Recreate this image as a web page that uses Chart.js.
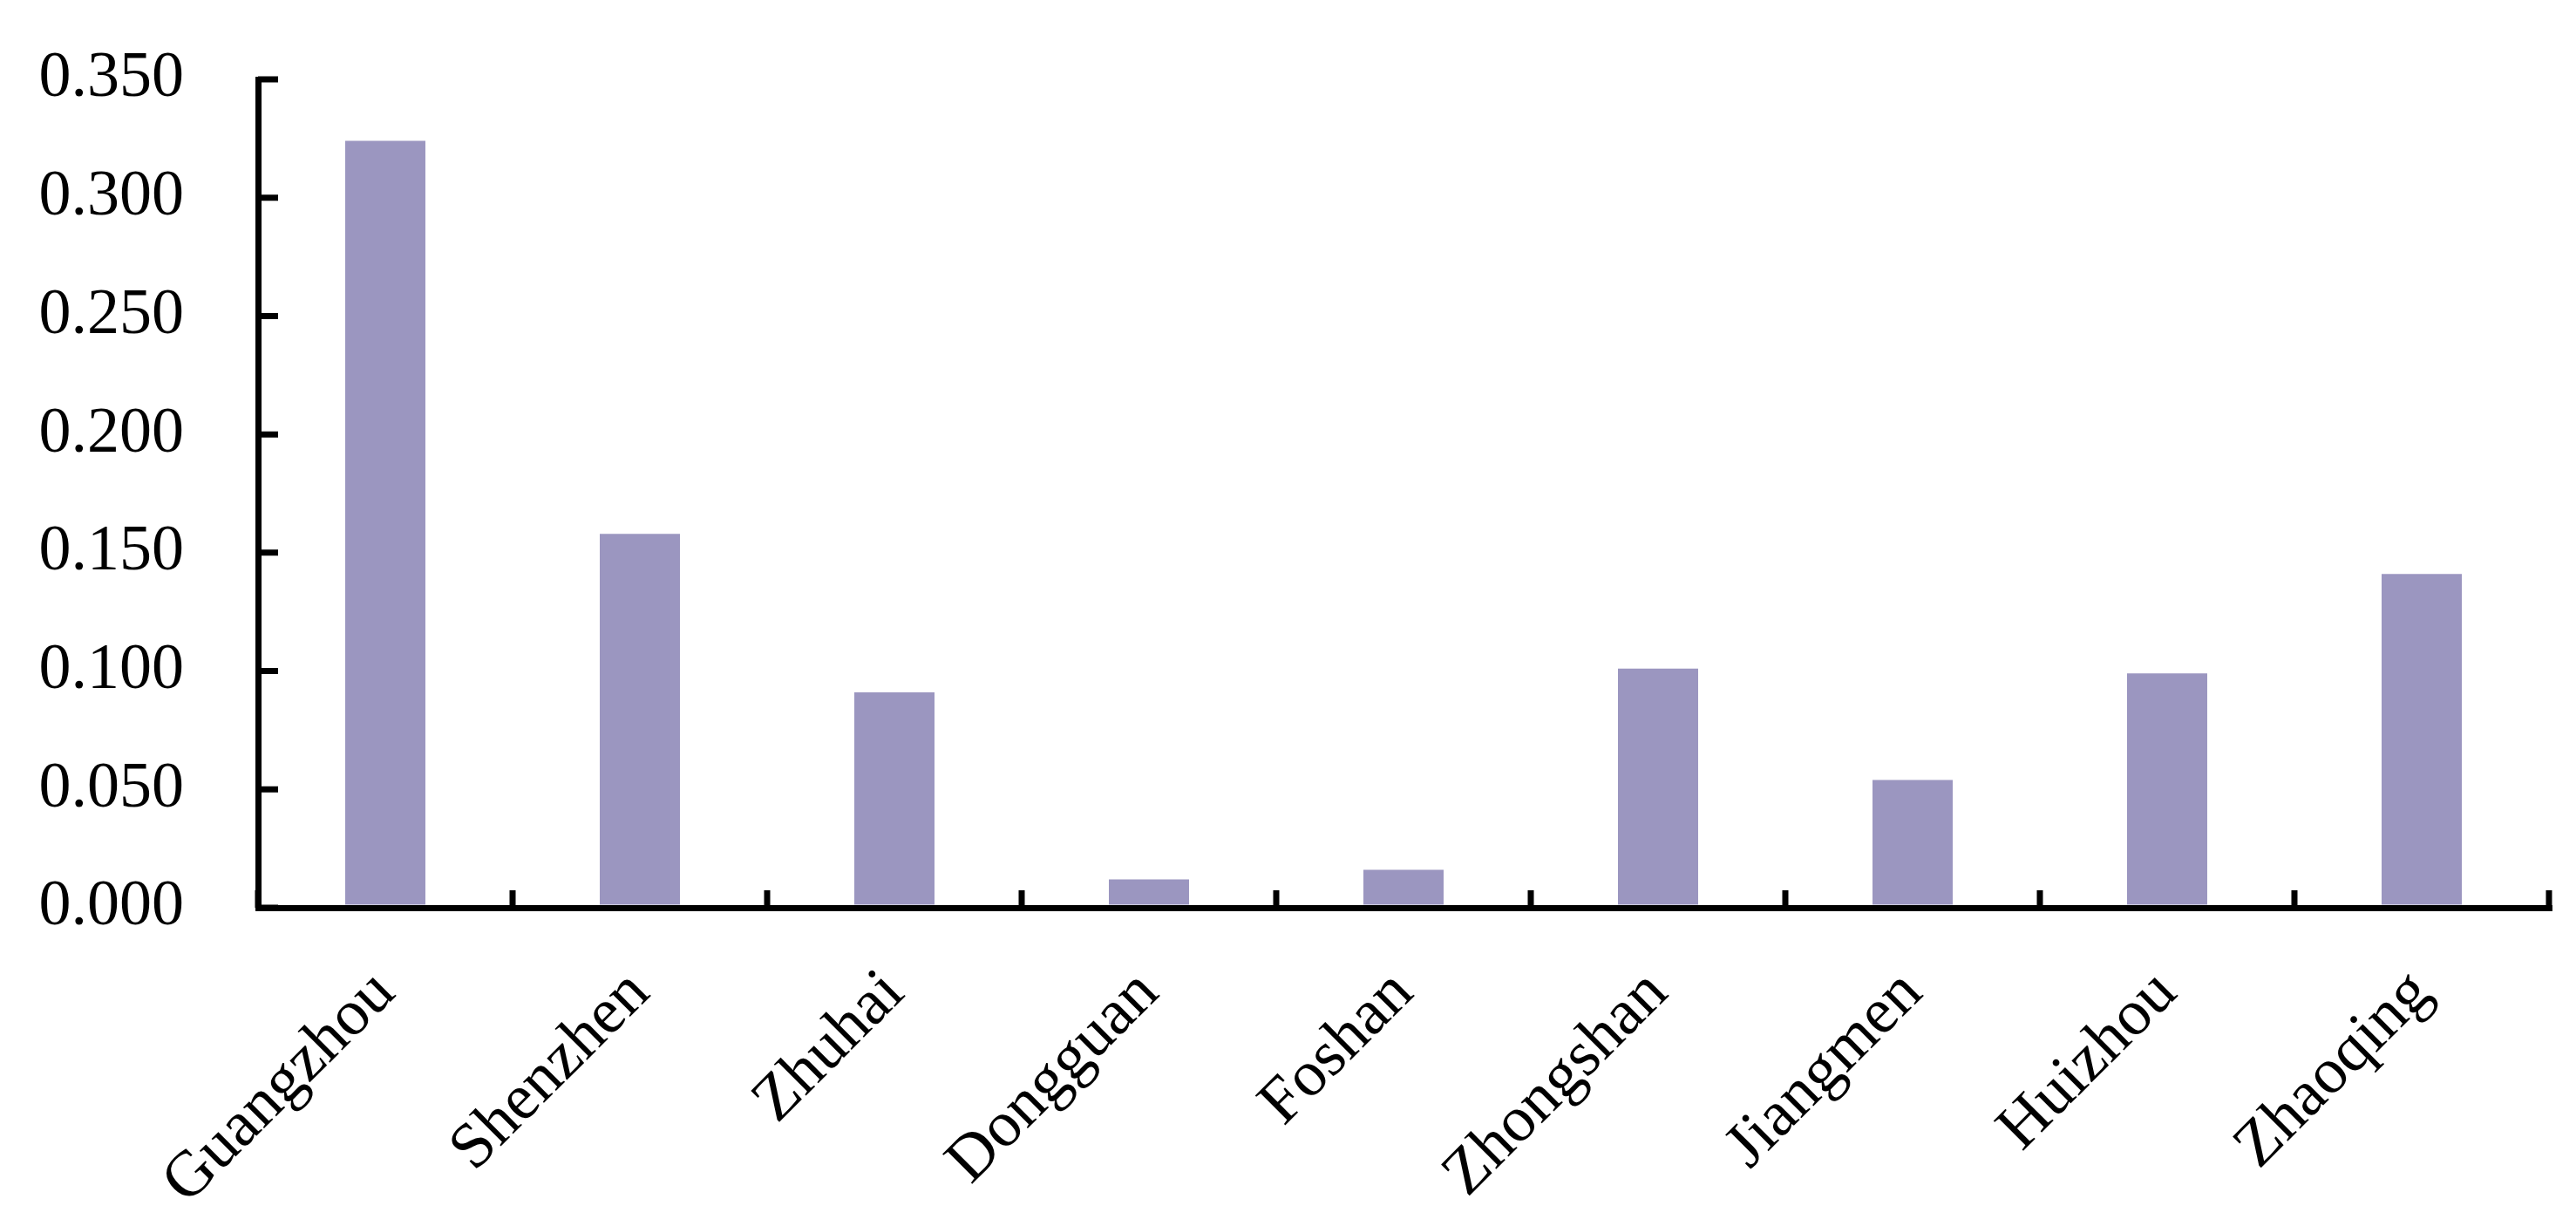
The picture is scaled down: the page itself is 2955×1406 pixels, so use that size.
<!DOCTYPE html>
<html>
<head>
<meta charset="utf-8">
<script src="https://cdn.jsdelivr.net/npm/chart.js@4/dist/chart.umd.min.js"></script>
<style>
body { margin: 0; background: #fff; }
</style>
</head>
<body>
<canvas id="miGrafico" width="2955" height="1406"></canvas>
<script>
let ciudades = ['Guangzhou', 'Shenzhen', 'Zhuhai', 'Dongguan', 'Foshan', 'Zhongshan', 'Jiangmen', 'Huizhou', 'Zhaoqing'];
let valores = [0.324, 0.158, 0.091, 0.012, 0.016, 0.101, 0.054, 0.099, 0.141];
let yMin = 0;
let yMax = 0.35;
let yPaso = 0.05;

let fuente = 'Liberation Serif';

// tick marks pointing into the plot, like the original
const marcasDentro = {
  id: 'marcasDentro',
  afterDraw(chart) {
    let ctx = chart.ctx;
    let area = chart.chartArea;
    let x = chart.scales.x;
    let y = chart.scales.y;
    ctx.save();
    ctx.strokeStyle = '#000';
    ctx.lineWidth = 7;
    ctx.beginPath();
    for (let i = 0; i <= ciudades.length; i++) {
      let px = x.getPixelForValue(i - 0.5);
      ctx.moveTo(px, area.bottom);
      ctx.lineTo(px, area.bottom - 20);
    }
    y.ticks.forEach(function(t) {
      let py = y.getPixelForValue(t.value);
      ctx.moveTo(area.left, py);
      ctx.lineTo(area.left + 23, py);
    });
    ctx.stroke();
    ctx.restore();
  }
};

let ctx = document.getElementById('miGrafico').getContext('2d');

let grafico = new Chart(ctx, {
  type: 'bar',
  data: {
    labels: ciudades,
    datasets: [{
      data: valores,
      backgroundColor: '#9b96c0',
      borderWidth: 0,
      barPercentage: 0.315,
      categoryPercentage: 1
    }]
  },
  options: {
    responsive: false,
    animation: false,
    devicePixelRatio: 1,
    layout: {
      padding: { top: 91, right: 31, left: 0, bottom: 0 }
    },
    plugins: {
      legend: { display: false },
      tooltip: { enabled: false }
    },
    scales: {
      x: {
        grid: { drawOnChartArea: false, drawTicks: false, color: 'rgba(0,0,0,0)', lineWidth: 7 },
        border: { display: true, color: '#000', width: 7 },
        ticks: {
          color: '#000',
          font: { family: fuente, size: 74 },
          minRotation: 45,
          maxRotation: 45,
          autoSkip: false,
          padding: 55
        },
        afterFit: function(scale) { scale.height = 365; }
      },
      y: {
        min: yMin,
        max: yMax,
        // outward ticks left invisible, they only push the labels away from the axis
        grid: { drawOnChartArea: false, drawTicks: true, tickLength: 75, tickColor: 'rgba(0,0,0,0)', color: 'rgba(0,0,0,0)', lineWidth: 7 },
        border: { display: true, color: '#000', width: 7 },
        ticks: {
          stepSize: yPaso,
          color: '#000',
          font: { family: fuente, size: 74 },
          padding: 10,
          callback: function(v) { return v.toFixed(3); }
        },
        afterFit: function(scale) { scale.width = 296; }
      }
    }
  },
  plugins: [marcasDentro]
});
</script>
</body>
</html>
